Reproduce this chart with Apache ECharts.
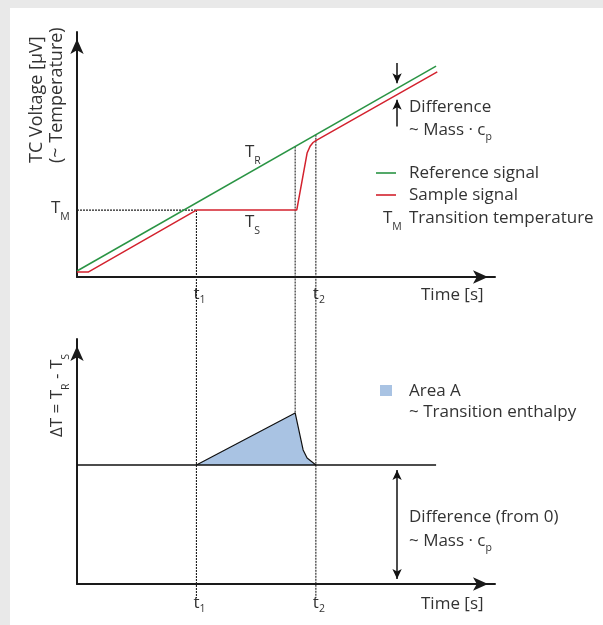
<!DOCTYPE html>
<html>
<head>
<meta charset="utf-8">
<script src="https://cdn.jsdelivr.net/npm/echarts@6/dist/echarts.min.js"></script>
<style>
html,body{margin:0;padding:0;background:#e9e9e9;}
#wrap{position:absolute;left:10px;top:8px;width:593px;height:617px;background:#fff;}
#chart{position:absolute;left:0;top:0;width:603px;height:625px;}
</style>
</head>
<body>
<div id="wrap"></div>
<div id="chart"></div>
<script>
// ---- data ----
const refTime = [0, 90.2];
const refSignal = [2.45, 86.1];
const sampleTime = [0, 2.8, 30, 55.2, 57.8, 58.6, 59.3, 60, 90.5];
const sampleSignal = [2.0, 2.0, 27.3, 27.3, 50.6, 53.5, 54.9, 55.7, 83.7];
const transitionTemp = 27.3;            // T_M
const deltaTime = [30, 54.8, 56.8, 57.8, 60];
const deltaSignal = [48.6, 69.8, 54.7, 51.4, 48.6];
const baselineTime = [0, 90.2];
const baselineSignal = [48.6, 48.6];
const tickTimes = [30, 60];              // t1, t2
const tickSubs = ['1', '2'];
const peakTime = 54.8;
const diffTime = 80.4;                   // where the "Difference" arrows sit

// ---- layout ----
const FONT = 'Open Sans';
const TXT = '#333';
const LEFT = 77, TOP = 32, W = 418, H = 245, GAP = 62, XMAX = 105, YMAX = 100;
const BOT_TOP = TOP + H + GAP;
const OV_H = 2 * H + GAP + 18;
const unitPerPx = YMAX / H;
const botOffset = -(H + GAP) * unitPerPx;   // bottom-panel value -> overlay value
const ovMin = YMAX - OV_H * unitPerPx;
const ovLow = botOffset - 14 * unitPerPx;
const headHalf = 5 * unitPerPx;

function interp(xs, ys, x) {
  for (let i = 0; i < xs.length - 1; i++) {
    if (x >= xs[i] && x <= xs[i + 1]) {
      return ys[i] + (ys[i + 1] - ys[i]) * (x - xs[i]) / (xs[i + 1] - xs[i]);
    }
  }
  return ys[ys.length - 1];
}
const zip = (a, b) => a.map((v, i) => [v, b[i]]);

const RICH = {
  m: {fontSize: 17, lineHeight: 30, fontFamily: FONT, color: TXT},
  n: {fontSize: 17, lineHeight: 26, fontFamily: FONT, color: TXT},
  t: {fontSize: 17, lineHeight: 24, fontFamily: FONT, color: TXT, backgroundColor: '#fff', padding: [0, 0, 0, 6]},
  s: {fontSize: 10.5, lineHeight: 10, verticalAlign: 'bottom', fontFamily: FONT, color: TXT}
};

function axisCommon(gridIndex, max, show) {
  return {
    type: 'value', gridIndex: gridIndex, min: 0, max: max,
    splitLine: {show: false}, axisTick: {show: false},
    axisLine: show ? {show: true, onZero: false, lineStyle: {color: '#1a1a1a', width: 2},
      symbol: ['none', 'arrow'], symbolSize: [10, 15], symbolOffset: [0, -7]} : {show: false},
    axisLabel: {show: false}
  };
}
function xAxisWithTicks(gridIndex, margin) {
  const a = axisCommon(gridIndex, XMAX, true);
  a.axisLabel = {
    show: true, customValues: tickTimes, margin: margin,
    formatter: v => '{t|t}{s|' + tickSubs[tickTimes.indexOf(v)] + '}',
    rich: RICH
  };
  return a;
}

const dotted = {color: '#222', width: 1.1, type: [2, 1]};
function vline(x, y0, y1) {
  return {type: 'line', xAxisIndex: 2, yAxisIndex: 2, data: [[x, y0], [x, y1]],
    symbol: 'none', lineStyle: dotted, silent: true, z: 1, animation: false};
}

function txt(x, y, text, extra, size) {
  return Object.assign({type: 'text', x: x, y: y, z: 100,
    style: {text: text, fill: TXT, fontSize: size || 17, fontFamily: FONT, align: 'left', verticalAlign: 'middle', rich: RICH}}, extra || {});
}

const refAtDiff = interp(refTime, refSignal, diffTime);
const sampleAtDiff = interp(sampleTime, sampleSignal, diffTime);
const arrowStyle = {color: '#111', width: 1.5, type: 'solid'};

const option = {
  animation: false,
  grid: [
    {left: LEFT, top: TOP, width: W, height: H},
    {left: LEFT, top: BOT_TOP, width: W, height: H},
    {left: LEFT, top: TOP, width: W, height: OV_H}
  ],
  xAxis: [
    xAxisWithTicks(0, 5),
    xAxisWithTicks(1, 7),
    axisCommon(2, XMAX, false)
  ],
  yAxis: [
    axisCommon(0, YMAX, true),
    axisCommon(1, YMAX, true),
    Object.assign(axisCommon(2, YMAX, false), {min: ovMin})
  ],
  legend: [{
    data: ['Reference signal', 'Sample signal'],
    orient: 'vertical', left: 376, top: 162, padding: 0, itemGap: 0,
    icon: 'rect', itemWidth: 20, itemHeight: 1.6, selectedMode: false,
    textStyle: {fontSize: 17, fontFamily: FONT, color: TXT, lineHeight: 22, padding: [0, 0, 0, 8]}
  }],
  series: [
    vline(tickTimes[0], transitionTemp, ovLow),
    vline(peakTime, interp(refTime, refSignal, peakTime), interp(deltaTime, deltaSignal, peakTime) + botOffset),
    vline(tickTimes[1], interp(refTime, refSignal, tickTimes[1]), ovLow),
    {
      name: 'T_M guide', type: 'line', xAxisIndex: 0, yAxisIndex: 0,
      data: [[0, transitionTemp], [tickTimes[0], transitionTemp]],
      symbol: 'none', lineStyle: dotted, silent: true, z: 1
    },
    {
      name: 'Reference signal', type: 'line', xAxisIndex: 0, yAxisIndex: 0,
      data: zip(refTime, refSignal), symbol: 'none', color: '#2a9444',
      lineStyle: {width: 1.5, color: '#2a9444'}, z: 3,
      markLine: {
        silent: true, symbol: ['none', 'arrow'], symbolSize: [7, 10], label: {show: false},
        lineStyle: arrowStyle,
        data: [[{coord: [diffTime, refAtDiff + 10.3]}, {coord: [diffTime, refAtDiff + headHalf]}]]
      }
    },
    {
      name: 'Sample signal', type: 'line', xAxisIndex: 0, yAxisIndex: 0,
      data: zip(sampleTime, sampleSignal), symbol: 'none', color: '#d3222e',
      lineStyle: {width: 1.5, color: '#d3222e'}, z: 3,
      markLine: {
        silent: true, symbol: ['none', 'arrow'], symbolSize: [7, 10], label: {show: false},
        lineStyle: arrowStyle,
        data: [[{coord: [diffTime, sampleAtDiff - 13]}, {coord: [diffTime, sampleAtDiff - headHalf]}]]
      }
    },
    {
      name: 'Area A', type: 'line', xAxisIndex: 1, yAxisIndex: 1,
      data: zip(deltaTime, deltaSignal), symbol: 'none', color: '#111',
      lineStyle: {width: 1.2, color: '#111'},
      areaStyle: {color: '#a9c3e3', opacity: 1, origin: baselineSignal[0]}, z: 2
    },
    {
      name: 'Baseline', type: 'line', xAxisIndex: 1, yAxisIndex: 1,
      data: zip(baselineTime, baselineSignal), symbol: 'none',
      lineStyle: {width: 1.5, color: '#111'}, z: 3,
      markLine: {
        silent: true, symbol: ['arrow', 'arrow'], symbolSize: [7, 10], label: {show: false},
        lineStyle: arrowStyle,
        data: [[{coord: [diffTime, baselineSignal[0] - headHalf]}, {coord: [diffTime, headHalf]}]]
      }
    }
  ],
  graphic: [
    txt(37, 163, 'TC Voltage [μV]', {rotation: Math.PI / 2}, 18),
    txt(57, 163, '(~ Temperature)', {rotation: Math.PI / 2}, 18),
    txt(57, 437, '{m|ΔT = T}{s|R}{m| - T}{s|S}', {rotation: Math.PI / 2}),
    txt(51, 208, '{m|T}{s|M}'),
    txt(245, 152, '{m|T}{s|R}'),
    txt(245, 222, '{m|T}{s|S}'),
    txt(421, 295, 'Time [s]'),
    txt(421, 604, 'Time [s]'),
    txt(409, 107, 'Difference'),
    txt(409, 130, '{n|~ Mass · c}{s|p}'),
    txt(383, 218, '{m|T}{s|M}'),
    txt(409, 218, 'Transition temperature'),
    {type: 'rect', shape: {x: 380, y: 385, width: 12, height: 11}, style: {fill: '#a9c3e3'}, z: 100},
    txt(409, 391, 'Area A'),
    txt(409, 412, '~ Transition enthalpy'),
    txt(409, 517, 'Difference (from 0)'),
    txt(409, 541, '{n|~ Mass · c}{s|p}')
  ]
};

const chart = echarts.init(document.getElementById('chart'), null, {renderer: 'canvas'});
chart.setOption(option);
</script>
</body>
</html>
